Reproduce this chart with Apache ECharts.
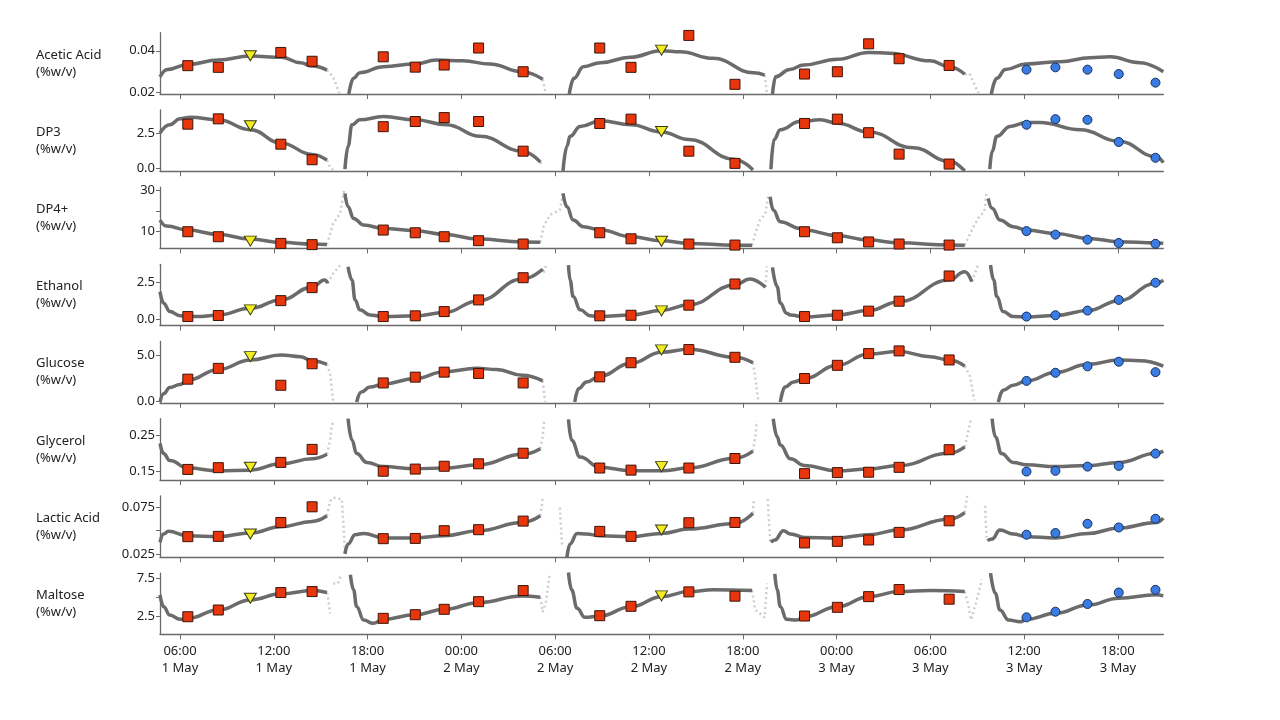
<!DOCTYPE html>
<html>
<head>
<meta charset="utf-8">
<script src="https://cdn.jsdelivr.net/npm/echarts@6/dist/echarts.min.js"></script>
<style>
  html, body { margin: 0; background: #fff; }
  #chart { width: 1280px; height: 720px; }
</style>
</head>
<body>
<div id="chart"></div>
<script>
// time in hours since 1 May 00:00
var xTicks = [6, 12, 18, 24, 30, 36, 42, 48, 54, 60, 66];
var sampleHours = [6.5, 8.45, 10.5, 12.45, 14.45, 19.0, 21.05, 22.9, 25.1, 27.95,
  32.85, 34.85, 36.8, 38.55, 41.5, 45.95, 48.05, 50.05, 52.0, 55.2,
  60.15, 62.0, 64.05, 66.05, 68.4];
// L = lab sample, C = check sample, P = prediction
var sampleKind = ['L','L','C','L','L', 'L','L','L','L','L', 'L','L','C','L','L',
  'L','L','L','L','L', 'P','P','P','P','P'];

// --- Acetic Acid ---
var aceticTrend = [
  [[4.72,0.0276],[5.2,0.0311],[6.5,0.0335],[8.45,0.0356],[10.5,0.0375],[12.5,0.0369],[13.7,0.0343],[14.45,0.0327],[15.4,0.0308]],
  [[16.8,0.0194],[17.1,0.0269],[17.5,0.0295],[19.0,0.0324],[21.05,0.0337],[22.4,0.0356],[24.1,0.0352],[25.8,0.0337],[27.9,0.0300],[29.2,0.0264]],
  [[30.9,0.0194],[31.2,0.0269],[31.8,0.0324],[32.9,0.0343],[34.8,0.0369],[36.8,0.0400],[38.0,0.0395],[40.1,0.0364],[42.7,0.0295],[43.4,0.0284]],
  [[43.9,0.0194],[44.1,0.0276],[45.0,0.0311],[45.9,0.0332],[48.05,0.0359],[50.05,0.0392],[51.4,0.0388],[54.0,0.0352],[55.2,0.0324],[56.2,0.0288]],
  [[57.9,0.0194],[58.25,0.0269],[58.8,0.0311],[60.1,0.0337],[62.3,0.0348],[64.2,0.0367],[65.5,0.0371],[67.4,0.0343],[68.9,0.0300]]
];
var aceticFade = [
  [[15.4,0.0308],[15.8,0.0275],[16.2,0.0195]],
  [[29.2,0.0264],[29.4,0.0194]],
  [[43.4,0.0284],[43.55,0.0194]],
  [[56.2,0.0288],[56.5,0.0292],[57.1,0.0194]]
];
var aceticLab = [0.0329,0.0321,0.0376,0.0392,0.0350, 0.0371,0.0322,0.0332,0.0413,0.0300,
  0.0413,0.0321,0.0403,0.0473,0.0240, 0.0289,0.0300,0.0433,0.0362,0.0330,
  0.0310,0.0321,0.0310,0.0289,0.0248];
var aceticTicks = [0.02, 0.04];

// --- DP3 ---
var dp3Trend = [
  [[4.72,2.5],[5.35,3.09],[6.0,3.51],[6.65,3.63],[8.45,3.44],[10.5,2.73],[12.45,1.79],[14.45,0.97],[15.4,0.56]],
  [[16.55,-0.09],[16.75,1.55],[17.0,3.09],[17.5,3.44],[19.0,3.67],[21.05,3.44],[23.05,3.09],[25.2,2.26],[27.9,1.2],[29.05,0.42]],
  [[30.5,-0.2],[30.75,1.55],[30.95,2.26],[31.6,2.97],[32.9,3.37],[34.85,3.09],[36.8,2.57],[38.55,2.03],[41.5,0.61],[42.65,-0.14]],
  [[43.8,-0.09],[44.0,2.03],[44.4,2.73],[45.65,3.32],[46.95,3.44],[48.05,3.2],[50.05,2.57],[52.9,1.44],[55.2,0.49],[56.2,-0.21]],
  [[57.8,-0.09],[57.95,1.2],[58.25,2.26],[59.1,2.97],[60.15,3.25],[61.0,3.25],[63.6,2.73],[66.05,1.91],[68.45,0.81],[68.9,0.38]]
];
var dp3Fade = [
  [[15.4,0.56],[15.6,0.05],[15.8,-0.15]],
  [[29.05,0.42],[29.2,0.1]]
];
var dp3Lab = [3.13,3.51,3.02,1.70,0.59, 2.95,3.32,3.60,3.32,1.20, 3.18,3.49,2.61,1.20,0.33,
  3.18,3.49,2.52,0.99,0.28, 3.09,3.49,3.44,1.86,0.73];
var dp3Ticks = [0, 2.5];

// --- DP4+ ---
var dp4Trend = [
  [[4.72,15.6],[5.15,12.7],[6.5,10.8],[8.45,8.7],[10.5,6.5],[12.45,4.9],[14.45,4.1],[15.4,3.9]],
  [[16.55,28.4],[16.75,22.0],[17.1,16.4],[17.75,13.2],[19.0,11.6],[21.05,10.5],[22.9,8.7],[25.1,6.5],[27.9,5.1],[29.05,4.9]],
  [[30.5,28.4],[30.75,22.0],[31.15,15.6],[31.8,12.4],[32.9,10.8],[34.85,7.6],[36.8,5.7],[38.55,4.4],[41.5,3.5],[42.6,3.5]],
  [[43.75,26.8],[43.95,20.4],[44.4,14.8],[45.65,11.6],[45.95,10.8],[48.05,8.1],[50.05,6.0],[52.0,4.7],[55.2,3.6],[56.2,3.5]],
  [[57.7,26.0],[57.95,21.2],[58.45,15.6],[59.3,12.4],[60.15,10.8],[62.0,9.2],[64.1,6.8],[66.05,5.2],[68.45,4.7],[68.9,4.4]]
];
var dp4Fade = [
  [[15.4,3.9],[15.5,4.4],[15.8,14.0],[16.25,18.8],[16.5,30.0]],
  [[29.05,4.9],[29.25,12.4],[29.65,18.0],[30.3,20.4],[30.5,28.4]],
  [[42.6,3.5],[42.8,9.2],[43.1,15.6],[43.45,18.8],[43.65,28.4]],
  [[56.2,3.5],[56.65,10.8],[57.05,16.4],[57.45,19.6],[57.6,29.2]]
];
var dp4Lab = [10.0,7.6,5.5,4.4,3.8, 10.8,9.5,7.6,5.7,4.1, 9.5,6.6,5.4,4.1,3.6,
  10.0,7.1,5.1,4.1,3.6, 10.3,8.6,6.2,4.6,4.2];
var dp4Ticks = [10, 20, 30];
var dp4Labels = [10, 30];

// --- Ethanol ---
var ethanolTrend = [
  [[4.72,1.89],[4.95,1.09],[5.35,0.52],[6.0,0.23],[7.3,0.18],[8.45,0.29],[10.5,0.75],[12.45,1.32],[14.45,2.19],[15.25,2.68],[15.45,2.46]],
  [[16.75,3.59],[17.0,2.68],[17.2,1.32],[17.5,0.64],[18.15,0.29],[19.0,0.18],[21.05,0.23],[22.9,0.45],[25.1,1.27],[27.9,2.75],[29.2,3.42]],
  [[30.85,3.71],[30.95,2.68],[31.15,1.55],[31.6,0.64],[32.25,0.23],[32.85,0.18],[34.85,0.29],[36.8,0.59],[38.55,0.98],[41.5,2.34],[42.45,2.75],[43.45,2.19]],
  [[43.9,3.55],[44.2,2.23],[44.4,1.1],[44.8,0.41],[45.05,0.29],[45.95,0.14],[48.05,0.29],[50.05,0.59],[52.0,1.2],[55.2,2.68],[56.2,3.25],[56.65,2.57]],
  [[57.85,3.71],[58.05,2.68],[58.25,1.55],[58.65,0.52],[59.3,0.18],[60.15,0.14],[62.0,0.25],[64.1,0.59],[66.05,1.27],[68.45,2.46],[68.9,2.68]]
];
var ethanolFade = [
  [[15.45,2.46],[15.8,3.14],[16.25,3.71]],
  [[29.2,3.42],[29.25,3.14],[29.4,3.64]],
  [[43.45,2.19],[43.55,3.64]],
  [[56.65,2.57],[57.05,3.71]]
];
var ethanolLab = [0.18,0.25,0.64,1.27,2.16, 0.18,0.23,0.52,1.32,2.84, 0.23,0.27,0.57,0.96,2.41,
  0.18,0.27,0.55,1.23,2.96, 0.18,0.27,0.59,1.32,2.50];
var ethanolTicks = [0, 2.5];

// --- Glucose ---
var glucoseTrend = [
  [[4.72,-0.1],[4.95,0.81],[5.35,1.47],[6.0,1.8],[6.5,2.27],[8.45,3.44],[10.5,4.46],[12.45,5.0],[13.7,4.82],[14.45,4.35],[15.4,3.99]],
  [[17.3,-0.1],[17.6,0.99],[18.15,1.53],[19.0,1.85],[21.05,2.45],[22.9,3.18],[25.0,3.55],[26.25,3.44],[27.9,2.81],[29.2,2.19]],
  [[31.25,-0.1],[31.5,1.36],[32.0,2.08],[32.85,2.71],[34.85,4.1],[36.8,5.3],[38.55,5.63],[41.5,4.75],[42.65,4.16]],
  [[44.4,-0.1],[44.7,1.53],[45.25,2.08],[45.95,2.45],[48.05,3.88],[50.05,5.11],[52.0,5.37],[54.0,4.82],[55.2,4.46],[56.2,3.8]],
  [[58.35,-0.1],[58.65,1.17],[59.3,1.72],[60.15,2.19],[62.0,3.11],[64.1,3.99],[66.05,4.46],[67.4,4.38],[68.9,3.8]]
];
var glucoseFade = [
  [[15.4,3.99],[15.6,3.0],[15.7,1.53],[15.8,-0.1]],
  [[29.2,2.19],[29.35,-0.1]],
  [[42.65,4.16],[42.8,2.63],[43.0,-0.1]],
  [[56.2,3.8],[56.55,2.63],[56.8,0.08]]
];
var glucoseLab = [2.38,3.55,4.82,1.72,4.05, 1.97,2.60,3.14,3.00,1.97, 2.63,4.16,5.55,5.59,4.75,
  2.45,3.88,5.15,5.44,4.46, 2.19,3.07,3.77,4.27,3.14];
var glucoseTicks = [0, 5];

// --- Glycerol ---
var glycerolTrend = [
  [[4.72,0.228],[4.95,0.199],[5.35,0.179],[6.5,0.158],[8.45,0.150],[10.5,0.152],[12.45,0.170],[14.45,0.184],[15.4,0.197]],
  [[16.75,0.298],[17.0,0.237],[17.3,0.199],[17.95,0.174],[19.0,0.162],[21.05,0.156],[22.9,0.158],[25.1,0.167],[27.9,0.197],[29.05,0.213]],
  [[30.85,0.296],[31.05,0.237],[31.6,0.189],[32.85,0.160],[34.85,0.150],[36.8,0.150],[38.55,0.158],[41.5,0.186],[42.65,0.206]],
  [[43.95,0.298],[44.2,0.247],[44.4,0.223],[45.05,0.184],[45.95,0.165],[48.05,0.150],[50.05,0.155],[52.0,0.165],[55.2,0.200],[56.2,0.218]],
  [[57.95,0.298],[58.15,0.247],[58.55,0.199],[59.3,0.174],[60.15,0.167],[62.0,0.162],[64.1,0.165],[66.05,0.174],[68.45,0.200],[68.9,0.206]]
];
var glycerolFade = [
  [[15.4,0.197],[15.6,0.237],[15.7,0.276],[15.8,0.291]],
  [[29.05,0.213],[29.2,0.247],[29.3,0.296]],
  [[42.65,0.206],[42.8,0.247],[42.9,0.291]],
  [[56.2,0.218],[56.45,0.267],[56.6,0.298]]
];
var glycerolLab = [0.154,0.159,0.160,0.174,0.211, 0.149,0.155,0.163,0.170,0.200, 0.158,0.152,0.162,0.158,0.185,
  0.142,0.145,0.146,0.160,0.210, 0.148,0.150,0.162,0.164,0.199];
var glycerolTicks = [0.15, 0.25];

// --- Lactic Acid ---
var lacticTrend = [
  [[4.72,0.0375],[4.95,0.0465],[5.25,0.0493],[6.5,0.0446],[8.45,0.0436],[10.5,0.0475],[12.45,0.0543],[14.45,0.0600],[15.4,0.0661]],
  [[16.55,0.025],[16.75,0.0357],[17.2,0.0457],[17.75,0.0471],[19.0,0.0422],[21.05,0.0422],[22.9,0.0446],[25.1,0.0500],[27.9,0.0589],[29.05,0.0661]],
  [[30.75,0.0214],[30.95,0.0357],[31.4,0.0471],[32.0,0.0465],[32.85,0.0446],[34.85,0.0436],[36.8,0.0471],[38.55,0.0518],[41.5,0.0578],[42.65,0.0689]],
  [[43.8,0.0375],[44.05,0.0400],[44.6,0.0500],[45.05,0.0465],[45.95,0.0428],[48.05,0.0422],[50.05,0.0457],[52.0,0.0508],[55.2,0.0625],[56.2,0.0696]],
  [[57.65,0.0393],[57.95,0.0411],[58.45,0.0508],[59.3,0.0465],[60.15,0.0436],[62.0,0.0422],[64.1,0.0471],[66.05,0.0529],[68.45,0.0589],[68.9,0.0636]]
];
var lacticFade = [
  [[15.4,0.0661],[15.6,0.0820],[15.8,0.0857],[16.35,0.0840],[16.45,0.0572],[16.55,0.0267]],
  [[29.05,0.0661],[29.15,0.0768],[29.2,0.0870]],
  [[30.3,0.0750],[30.35,0.0589],[30.4,0.0446],[30.45,0.0321]],
  [[42.65,0.0689],[42.7,0.0840]],
  [[43.6,0.0840],[43.65,0.0680],[43.7,0.0536],[43.75,0.0375]],
  [[56.2,0.0696],[56.35,0.0876]],
  [[57.5,0.0768],[57.55,0.0572],[57.6,0.0428]]
];
var lacticLab = [0.0436,0.0439,0.0465,0.0589,0.0758, 0.0414,0.0417,0.0500,0.0511,0.0604,
  0.0493,0.0439,0.0508,0.0586,0.0589, 0.0368,0.0385,0.0400,0.0482,0.0607,
  0.0457,0.0475,0.0575,0.0535,0.0629];
var lacticTicks = [0.025, 0.05, 0.075];
var lacticLabels = [0.025, 0.075];

// --- Maltose ---
var maltoseTrend = [
  [[4.72,5.33],[4.95,3.8],[5.35,2.72],[6.0,2.16],[6.5,2.29],[8.45,3.37],[10.5,4.67],[12.45,5.46],[14.45,5.89],[15.4,5.63]],
  [[16.9,7.93],[17.1,5.98],[17.3,3.8],[17.75,2.07],[18.35,1.64],[19.0,2.16],[21.05,2.76],[22.9,3.46],[25.1,4.32],[27.9,5.2],[29.05,5.03]],
  [[30.85,8.23],[31.05,5.98],[31.4,3.59],[31.9,2.42],[32.85,2.59],[34.85,3.8],[36.8,5.1],[38.55,5.76],[40.1,5.98],[42.6,5.89]],
  [[44.05,8.06],[44.2,5.98],[44.4,3.8],[44.8,2.16],[45.45,2.07],[45.95,2.5],[48.05,3.8],[50.05,5.1],[52.0,5.76],[54.0,5.89],[56.2,5.76]],
  [[57.85,8.15],[58.15,5.55],[58.45,3.37],[59.0,2.07],[59.75,1.85],[60.15,2.16],[62.0,2.94],[64.1,4.02],[66.05,4.9],[68.45,5.33],[68.9,5.2]]
];
var maltoseFade = [
  [[15.4,5.63],[15.5,4.6],[15.6,2.9]],
  [[15.8,6.8],[16.1,6.8],[16.25,7.7]],
  [[29.05,5.03],[29.2,3.1],[29.4,4.3],[29.65,8.1]],
  [[42.6,5.89],[42.8,3.4],[43.4,2.4],[43.55,6.8]],
  [[56.2,5.76],[56.45,3.8],[56.6,2.1],[56.9,4.2],[57.3,7.3]]
];
var maltoseLab = [2.50,3.37,4.90,5.63,5.76, 2.29,2.76,3.46,4.45,5.89, 2.63,3.85,5.20,5.72,5.16,
  2.59,3.72,5.10,6.02,4.77, 2.42,3.15,4.15,5.63,5.98];
var maltoseTicks = [2.5, 5, 7.5];
var maltoseLabels = [2.5, 7.5];

var rows = [
  { name: 'Acetic Acid', trend: aceticTrend, fade: aceticFade, lab: aceticLab, ticks: aceticTicks, labels: aceticTicks, min: 0.0194, max: 0.0486, dec: 2 },
  { name: 'DP3', trend: dp3Trend, fade: dp3Fade, lab: dp3Lab, ticks: dp3Ticks, labels: dp3Ticks, min: -0.23, max: 4.15, dec: 1 },
  { name: 'DP4+', trend: dp4Trend, fade: dp4Fade, lab: dp4Lab, ticks: dp4Ticks, labels: dp4Labels, min: 2.0, max: 31.4, dec: 0 },
  { name: 'Ethanol', trend: ethanolTrend, fade: ethanolFade, lab: ethanolLab, ticks: ethanolTicks, labels: ethanolTicks, min: -0.44, max: 3.76, dec: 1 },
  { name: 'Glucose', trend: glucoseTrend, fade: glucoseFade, lab: glucoseLab, ticks: glucoseTicks, labels: glucoseTicks, min: -0.18, max: 6.46, dec: 1 },
  { name: 'Glycerol', trend: glycerolTrend, fade: glycerolFade, lab: glycerolLab, ticks: glycerolTicks, labels: glycerolTicks, min: 0.124, max: 0.298, dec: 2 },
  { name: 'Lactic Acid', trend: lacticTrend, fade: lacticFade, lab: lacticLab, ticks: lacticTicks, labels: lacticLabels, min: 0.0214, max: 0.0876, dec: 3 },
  { name: 'Maltose', trend: maltoseTrend, fade: maltoseFade, lab: maltoseLab, ticks: maltoseTicks, labels: maltoseLabels, min: 0.21, max: 8.15, dec: 1 }
];

var font = 'Noto Sans';
var ink = '#222';
var axisGray = '#6a6a6a';
var rowTop = 32.7, rowStep = 77.2, rowH = 61.3;

function timeLabel(h) {
  var hh = h % 24;
  var day = Math.floor(h / 24) + 1;
  return (hh < 10 ? '0' : '') + hh + ':00\n' + day + ' May';
}

var grids = [], xAxes = [], yAxes = [], titles = [], series = [];
rows.forEach(function(r, i) {
  var top = rowTop + rowStep * i;
  grids.push({ left: 160, width: 1003.3, top: top, height: rowH });
  titles.push({
    text: r.name + '\n(%w/v)', left: 36, top: top + rowH / 2 - 17, padding: 0,
    textStyle: { fontSize: 13, fontWeight: 'normal', color: ink, lineHeight: 17, fontFamily: font }
  });
  xAxes.push({
    type: 'value', gridIndex: i, min: 4.72, max: 68.9,
    axisLine: { show: true, onZero: false, lineStyle: { color: axisGray, width: 1.3 } },
    axisTick: { show: true, length: 5, customValues: xTicks, lineStyle: { color: axisGray } },
    axisLabel: {
      show: i === rows.length - 1, customValues: xTicks, formatter: timeLabel,
      color: ink, fontSize: 13, lineHeight: 17, margin: 8, fontFamily: font
    },
    splitLine: { show: false }
  });
  yAxes.push({
    type: 'value', gridIndex: i, min: r.min, max: r.max,
    axisLine: { show: true, onZero: false, lineStyle: { color: axisGray, width: 1.3 } },
    axisTick: { show: true, length: 4, customValues: r.ticks, lineStyle: { color: axisGray } },
    axisLabel: {
      customValues: r.labels, color: ink, fontSize: 13, margin: 5, fontFamily: font,
      formatter: (function(d) { return function(v) { return Number(v).toFixed(d); }; })(r.dec)
    },
    splitLine: { show: false }
  });

  r.fade.forEach(function(seg) {
    series.push({
      type: 'line', xAxisIndex: i, yAxisIndex: i, data: seg, showSymbol: false, silent: true,
      lineStyle: { color: '#cdcdcd', width: 2.5, type: [2, 3] }, z: 1
    });
  });
  r.trend.forEach(function(seg) {
    series.push({
      type: 'line', xAxisIndex: i, yAxisIndex: i, data: seg, showSymbol: false, silent: true,
      smooth: 0.45, smoothMonotone: 'x',
      lineStyle: { color: '#6b6b6b', width: 3.5 }, z: 2
    });
  });

  var labPts = [], checkPts = [], predPts = [];
  sampleHours.forEach(function(h, k) {
    var p = [h, r.lab[k]];
    if (sampleKind[k] === 'L') labPts.push(p);
    else if (sampleKind[k] === 'C') checkPts.push(p);
    else predPts.push(p);
  });
  series.push({
    type: 'scatter', xAxisIndex: i, yAxisIndex: i, data: labPts, symbol: 'rect', symbolSize: 10,
    itemStyle: { color: '#e8360c', borderColor: '#3a140a', borderWidth: 1, opacity: 1 }, z: 5
  });
  series.push({
    type: 'scatter', xAxisIndex: i, yAxisIndex: i, data: checkPts, symbol: 'triangle',
    symbolRotate: 180, symbolSize: [12, 10],
    itemStyle: { color: '#f2ec22', borderColor: '#3a3a12', borderWidth: 1, opacity: 1 }, z: 5
  });
  series.push({
    type: 'scatter', xAxisIndex: i, yAxisIndex: i, data: predPts, symbol: 'circle', symbolSize: 9,
    itemStyle: { color: '#3a7be4', borderColor: '#14305c', borderWidth: 1, opacity: 1 }, z: 5
  });
});

var chart = echarts.init(document.getElementById('chart'));
chart.setOption({
  animation: false,
  backgroundColor: '#fff',
  textStyle: { fontFamily: font },
  title: titles,
  grid: grids,
  xAxis: xAxes,
  yAxis: yAxes,
  series: series
});
</script>
</body>
</html>
